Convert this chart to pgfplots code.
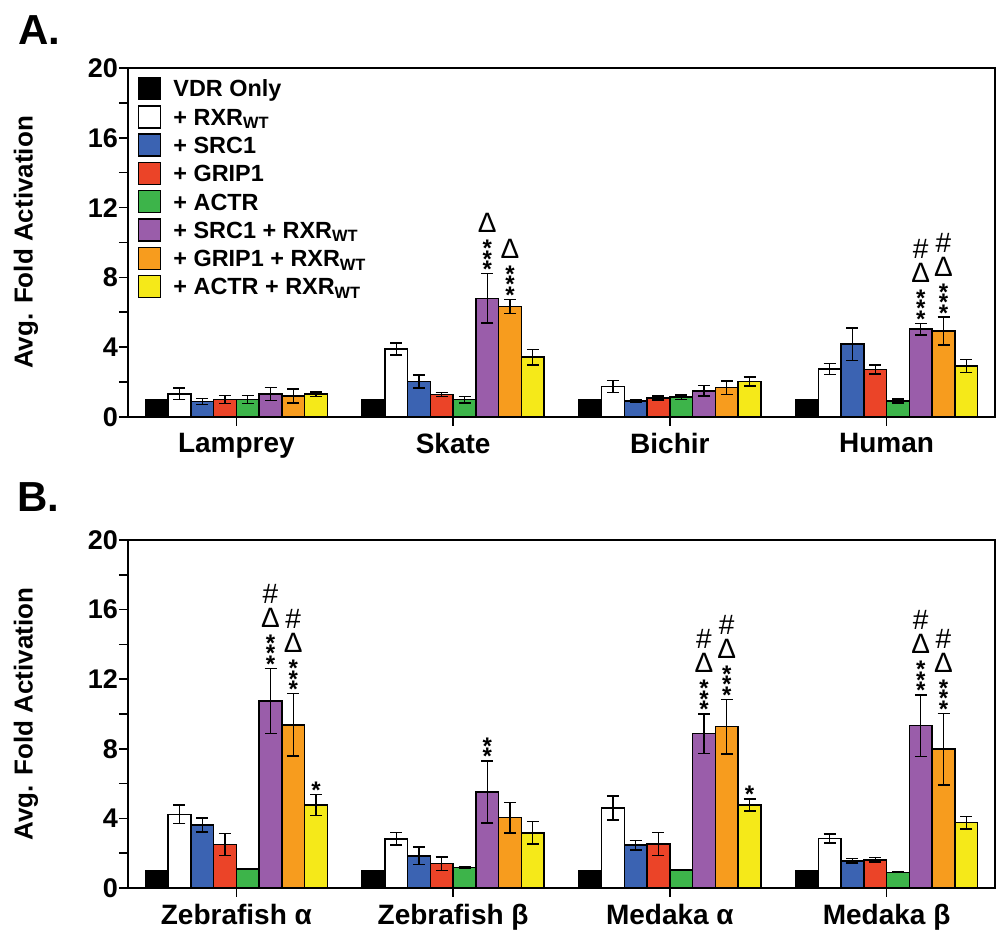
\documentclass[border=0pt]{standalone}
\usepackage{fontspec}
\setmainfont{Liberation Sans}
\usepackage{pgfplots}
\pgfplotsset{compat=1.18}

\definecolor{cblue}{RGB}{59,99,178}
\definecolor{cred}{RGB}{235,68,40}
\definecolor{cgreen}{RGB}{61,180,74}
\definecolor{cpurple}{RGB}{154,93,170}
\definecolor{corange}{RGB}{247,156,30}
\definecolor{cyellow}{RGB}{245,233,25}

% stacked significance marks
\newcommand{\stk}[1]{\vbox{\baselineskip=5.25pt\lineskiplimit=-100pt\lineskip=0pt\halign{\hfil##\hfil\cr#1\crcr}}}
\newcommand{\as}{\bfseries*}
\newcommand{\bigsym}{\fontsize{14}{14}\selectfont}
\newcommand{\gp}{\noalign{\kern6.75pt}}
\newcommand{\sA}{\stk{\as}}
\newcommand{\sB}{\stk{\as\cr\as}}
\newcommand{\sD}{\stk{\bigsym Δ\cr\gp\as\cr\as\cr\as}}
\newcommand{\sE}{\stk{\bigsym\#\cr\gp\bigsym Δ\cr\gp\as\cr\as\cr\as}}

\tikzset{sig/.style={anchor=base, inner sep=0pt, font=\fontsize{12}{12}\selectfont, yshift=-2pt}}

\pgfplotsset{
  panel/.style={
    scale only axis, width=433.5pt, anchor=south west,
    xmin=-0.5, xmax=3.5, ymin=0, ymax=20,
    ytick={0,4,...,20}, minor ytick={2,6,...,18},
    xtick={0,1,2,3},
    tick pos=left, tick align=outside,
    major tick length=4.5pt, minor tick length=4.5pt,
    every tick/.style={black, line width=0.8pt},
    axis line style={line width=1pt},
    /pgf/number format/assume math mode=true,
    yticklabel style={font=\fontsize{13.5}{15}\selectfont\bfseries, xshift=3pt},
    xticklabel style={font=\fontsize{14}{16}\selectfont\bfseries},
    every axis y label/.style={at={(axis description cs:-0.1176,0.5)}, rotate=90, anchor=center,
      font=\fontsize{13}{15}\selectfont\bfseries},
    ylabel={Avg. Fold Activation},
    every axis plot/.append style={ybar, bar width=0.105, bar shift=0pt,
      draw=black, line width=0.75pt,
      error bars/y dir=both, error bars/y explicit,
      error bars/error bar style={line width=0.7pt, black},
      error bars/error mark options={black, mark size=3pt, line width=0.7pt, rotate=90}},
  },
}

\begin{document}
\begin{tikzpicture}
\useasboundingbox (0,0) rectangle (501.5pt,466pt);

\node[anchor=base west, inner sep=0pt, font=\fontsize{21}{21}\selectfont\bfseries] at (9pt,443.5pt) {A.};
\node[anchor=base west, inner sep=0pt, font=\fontsize{21}{21}\selectfont\bfseries] at (8.5pt,210pt) {B.};

% ---------------- panel A  (bars sit at group + (i-3.5)*0.105)
\begin{axis}[panel, at={(64pt,257.5pt)}, height=174.5pt,
  xticklabels={Lamprey,Skate,Bichir,Human},
  legend cell align=left,
  legend image code/.code={\draw[#1, draw=black, line width=0.75pt] (0pt,-5.5pt) rectangle (11pt,5.5pt);},
  legend style={at={(axis description cs:0.0115,0.975)}, anchor=north west, draw=none, fill=none,
    inner sep=0pt, outer sep=0pt, row sep=2.4pt, column sep=6pt,
    font=\fontsize{11.7}{13}\selectfont\bfseries,
    nodes={inner sep=0pt, text height=9.7pt, text depth=1.3pt}},
]
\addplot[fill=black] coordinates {(-0.3675,1) +- (0,0) (0.6325,1) +- (0,0) (1.6325,1) +- (0,0) (2.6325,1) +- (0,0)};
\addlegendentry{VDR Only}
\addplot[fill=white] coordinates {(-0.2625,1.33) +- (0,0.33) (0.7375,3.9) +- (0,0.35) (1.7375,1.75) +- (0,0.35) (2.7375,2.74) +- (0,0.32)};
\addlegendentry{+ RXR\textsubscript{WT}}
\addplot[fill=cblue] coordinates {(-0.1575,0.9) +- (0,0.17) (0.8425,2.04) +- (0,0.37) (1.8425,0.91) +- (0,0.06) (2.8425,4.17) +- (0,0.93)};
\addlegendentry{+ SRC1}
\addplot[fill=cred] coordinates {(-0.0525,1.0) +- (0,0.23) (0.9475,1.28) +- (0,0.12) (1.9475,1.09) +- (0,0.12) (2.9475,2.72) +- (0,0.25)};
\addlegendentry{+ GRIP1}
\addplot[fill=cgreen] coordinates {(0.0525,1.0) +- (0,0.23) (1.0525,1.0) +- (0,0.19) (2.0525,1.14) +- (0,0.13) (3.0525,0.91) +- (0,0.11)};
\addlegendentry{+ ACTR}
\addplot[fill=cpurple] coordinates {(0.1575,1.33) +- (0,0.37) (1.1575,6.8) +- (0,1.41) (2.1575,1.5) +- (0,0.29) (3.1575,5.03) +- (0,0.33)};
\addlegendentry{+ SRC1 + RXR\textsubscript{WT}}
\addplot[fill=corange] coordinates {(0.2625,1.2) +- (0,0.4) (1.2625,6.34) +- (0,0.4) (2.2625,1.68) +- (0,0.38) (3.2625,4.93) +- (0,0.8)};
\addlegendentry{+ GRIP1 + RXR\textsubscript{WT}}
\addplot[fill=cyellow] coordinates {(0.3675,1.31) +- (0,0.13) (1.3675,3.43) +- (0,0.45) (2.3675,2.04) +- (0,0.26) (3.3675,2.93) +- (0,0.38)};
\addlegendentry{+ ACTR + RXR\textsubscript{WT}}

\node[sig] at (axis cs:1.1575,8.21) {\sD};
\node[sig] at (axis cs:1.2625,6.74) {\sD};
\node[sig] at (axis cs:3.1575,5.36) {\sE};
\node[sig] at (axis cs:3.2625,5.73) {\sE};
\end{axis}

% ---------------- panel B
\begin{axis}[panel, at={(64pt,22pt)}, height=174pt,
  xticklabels={Zebrafish α,Zebrafish β,Medaka α,Medaka β},
]
\addplot[fill=black] coordinates {(-0.3675,1) +- (0,0) (0.6325,1) +- (0,0) (1.6325,1) +- (0,0) (2.6325,1) +- (0,0)};
\addplot[fill=white] coordinates {(-0.2625,4.23) +- (0,0.53) (0.7375,2.83) +- (0,0.37) (1.7375,4.6) +- (0,0.69) (2.7375,2.85) +- (0,0.26)};
\addplot[fill=cblue] coordinates {(-0.1575,3.62) +- (0,0.4) (0.8425,1.85) +- (0,0.5) (1.8425,2.46) +- (0,0.28) (2.8425,1.56) +- (0,0.13)};
\addplot[fill=cred] coordinates {(-0.0525,2.5) +- (0,0.63) (0.9475,1.4) +- (0,0.38) (1.9475,2.52) +- (0,0.66) (2.9475,1.62) +- (0,0.12)};
\addplot[fill=cgreen] coordinates {(0.0525,1.08) +- (0,0.03) (1.0525,1.17) +- (0,0.04) (2.0525,1.02) +- (0,0.03) (3.0525,0.9) +- (0,0.01)};
\addplot[fill=cpurple] coordinates {(0.1575,10.75) +- (0,1.87) (1.1575,5.52) +- (0,1.78) (2.1575,8.87) +- (0,1.13) (3.1575,9.33) +- (0,1.77)};
\addplot[fill=corange] coordinates {(0.2625,9.38) +- (0,1.79) (1.2625,4.04) +- (0,0.88) (2.2625,9.27) +- (0,1.57) (3.2625,7.98) +- (0,2.06)};
\addplot[fill=cyellow] coordinates {(0.3675,4.77) +- (0,0.6) (1.3675,3.17) +- (0,0.64) (2.3675,4.77) +- (0,0.35) (3.3675,3.75) +- (0,0.36)};

\node[sig] at (axis cs:0.1575,12.62) {\sE};
\node[sig] at (axis cs:0.2625,11.17) {\sE};
\node[sig] at (axis cs:0.3675,5.37) {\sA};
\node[sig] at (axis cs:1.1575,7.30) {\sB};
\node[sig] at (axis cs:2.1575,10.0) {\sE};
\node[sig] at (axis cs:2.2625,10.84) {\sE};
\node[sig] at (axis cs:2.3675,5.12) {\sA};
\node[sig] at (axis cs:3.1575,11.10) {\sE};
\node[sig] at (axis cs:3.2625,10.04) {\sE};
\end{axis}
\end{tikzpicture}
\end{document}
